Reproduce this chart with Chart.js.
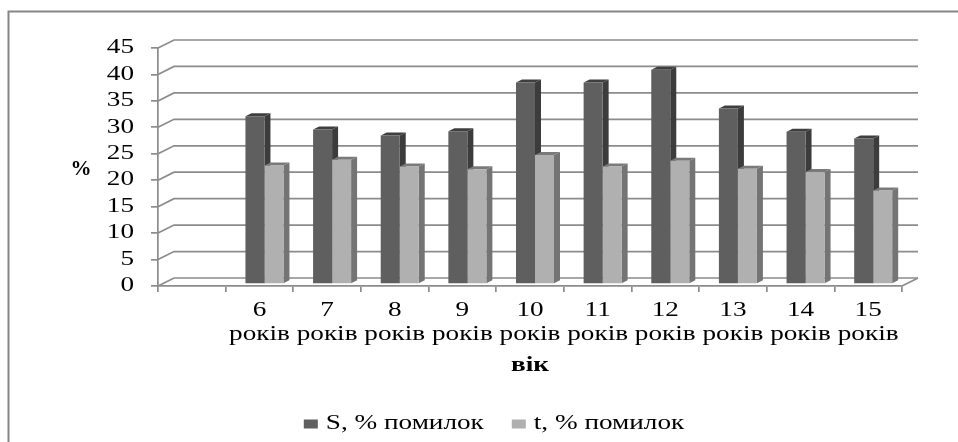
<!DOCTYPE html>
<html>
<head>
<meta charset="utf-8">
<style>html,body{margin:0;padding:0;background:#fff}canvas{display:block;filter:blur(0.45px)}</style>
<script src="https://cdn.jsdelivr.net/npm/chart.js@4/dist/chart.umd.min.js"></script>
</head>
<body>
<canvas id="c" width="958" height="442"></canvas>
<script>
const ages = ['', '6', '7', '8', '9', '10', '11', '12', '13', '14', '15'];
const unitLabel = 'років';
const sValues = [null, 31.7, 29.2, 28.1, 28.9, 38.1, 38.1, 40.5, 33.2, 28.8, 27.5];
const tValues = [null, 22.4, 23.5, 22.2, 21.7, 24.4, 22.2, 23.3, 21.8, 21.2, 17.7];
const yTicks = [0, 5, 10, 15, 20, 25, 30, 35, 40, 45];
const sName = 'S, % помилок';
const tName = 't, % помилок';
const xTitle = 'вік';
const yTitle = '%';

const GRID = '#8c8c8c', FONT = '"Liberation Serif", serif', INK = '#000';
const DEPTH = {x: 16, y: -8};            // wall offset of the 3-D box
const BAR = {x: 5, y: -2, dx: 6, dy: -3}; // bar inset and bar depth
const FACES = [{side: '#3c3c3c', top: '#3f3f3f'}, {side: '#747474', top: '#7a7a7a'}];

// The reference text is stretched sideways: apply that stretch to all canvas text.
const canvas = document.getElementById('c');
const ctx = canvas.getContext('2d');
let stretch = 1.36;
const rawFill = ctx.fillText.bind(ctx), rawMeasure = ctx.measureText.bind(ctx);
ctx.fillText = function (t, x, y) {
  ctx.save(); ctx.translate(x, y); ctx.scale(stretch, 1); rawFill(t, 0, 0); ctx.restore();
};
ctx.measureText = function (t) {
  const m = rawMeasure(t);
  return {width: m.width * stretch, actualBoundingBoxAscent: m.actualBoundingBoxAscent, actualBoundingBoxDescent: m.actualBoundingBoxDescent};
};

const box3d = {
  id: 'box3d',
  beforeDraw(chart) {
    const c = chart.ctx;
    c.save();
    c.strokeStyle = '#868686'; c.lineWidth = 2;
    c.strokeRect(8.5, 11.5, 1000, 500);
    c.restore();
  },
  beforeDatasetsDraw(chart) {
    const c = chart.ctx, a = chart.chartArea, y = chart.scales.y;
    c.save();
    c.strokeStyle = GRID; c.lineWidth = 1.7;
    yTicks.forEach(v => {
      const p = y.getPixelForValue(v);
      c.beginPath();
      c.moveTo(a.left, p);
      c.lineTo(a.left + DEPTH.x, p + DEPTH.y);
      c.lineTo(a.right + DEPTH.x, p + DEPTH.y);
      c.stroke();
    });
    const p0 = y.getPixelForValue(0);
    c.beginPath();
    c.moveTo(a.right, p0);
    c.lineTo(a.right + DEPTH.x, p0 + DEPTH.y);
    c.stroke();
    c.restore();

    // depth faces of the bars, then shift the bars off the front plane
    c.save();
    c.translate(BAR.x, BAR.y);
    [0, 1].forEach(ds => {
      chart.getDatasetMeta(ds).data.forEach((b, i) => {
        if (chart.data.datasets[ds].data[i] == null) return;
        const l = b.x - b.width / 2, r = b.x + b.width / 2, t = b.y, bt = b.base;
        c.fillStyle = FACES[ds].top;
        c.beginPath();
        c.moveTo(l, t); c.lineTo(l + BAR.dx, t + BAR.dy); c.lineTo(r + BAR.dx, t + BAR.dy); c.lineTo(r, t);
        c.closePath(); c.fill();
        c.fillStyle = FACES[ds].side;
        c.beginPath();
        c.moveTo(r, t); c.lineTo(r + BAR.dx, t + BAR.dy); c.lineTo(r + BAR.dx, bt + BAR.dy); c.lineTo(r, bt);
        c.closePath(); c.fill();
      });
    });
    c.restore();
    c.save();
    c.translate(BAR.x, BAR.y);
  },
  afterDatasetsDraw(chart) {
    chart.ctx.restore();
  },
  afterDraw(chart) {
    const c = chart.ctx;
    c.save();
    stretch = 1;
    c.font = 'bold 21px ' + FONT;
    c.fillStyle = INK;
    c.textAlign = 'center'; c.textBaseline = 'middle';
    c.fillText(yTitle, 81, 170);
    stretch = 1.36;
    c.restore();
  }
};

new Chart(canvas, {
  type: 'bar',
  plugins: [box3d],
  data: {
    labels: ages.map(a => a === '' ? [''] : [a, unitLabel]),
    datasets: [
      {label: sName, data: sValues, backgroundColor: '#5f5f5f', borderWidth: 0, categoryPercentage: 0.562, barPercentage: 1},
      {label: tName, data: tValues, backgroundColor: '#b0b0b0', borderWidth: 0, categoryPercentage: 0.562, barPercentage: 1}
    ]
  },
  options: {
    responsive: false,
    animation: false,
    devicePixelRatio: 1,
    layout: {padding: {left: 88, right: 56, top: 48, bottom: -2}},
    plugins: {
      tooltip: {enabled: false},
      title: {display: false},
      legend: {
        display: true,
        position: 'bottom',
        labels: {
          color: INK,
          font: {family: FONT, size: 20},
          boxWidth: 10,
          boxHeight: 5,
          padding: 30,
          generateLabels(chart) {
            return Chart.defaults.plugins.legend.labels.generateLabels(chart).map(l => {
              l.lineWidth = 4; l.strokeStyle = l.fillStyle; return l;
            });
          }
        }
      }
    },
    scales: {
      x: {
        afterFit(s) { s.height = 98; },
        grid: {drawOnChartArea: false, drawTicks: true, tickLength: 6, color: GRID, lineWidth: 1.7},
        border: {display: true, color: GRID, width: 1.7},
        ticks: {autoSkip: false, maxRotation: 0, minRotation: 0, padding: 7, color: INK, font: {family: FONT, size: 20}},
        title: {display: true, text: xTitle, color: INK, font: {family: FONT, size: 20, weight: 'bold'}, padding: {top: 0, bottom: 6}}
      },
      y: {
        min: 0, max: 45,
        afterFit(s) { s.width = 70; },
        grid: {drawOnChartArea: false, drawTicks: true, tickLength: 7, color: GRID, lineWidth: 1.7},
        border: {display: true, color: GRID, width: 1.7},
        ticks: {autoSkip: false, stepSize: 5, padding: 17, color: INK, font: {family: FONT, size: 20}}
      }
    }
  }
});
</script>
</body>
</html>
